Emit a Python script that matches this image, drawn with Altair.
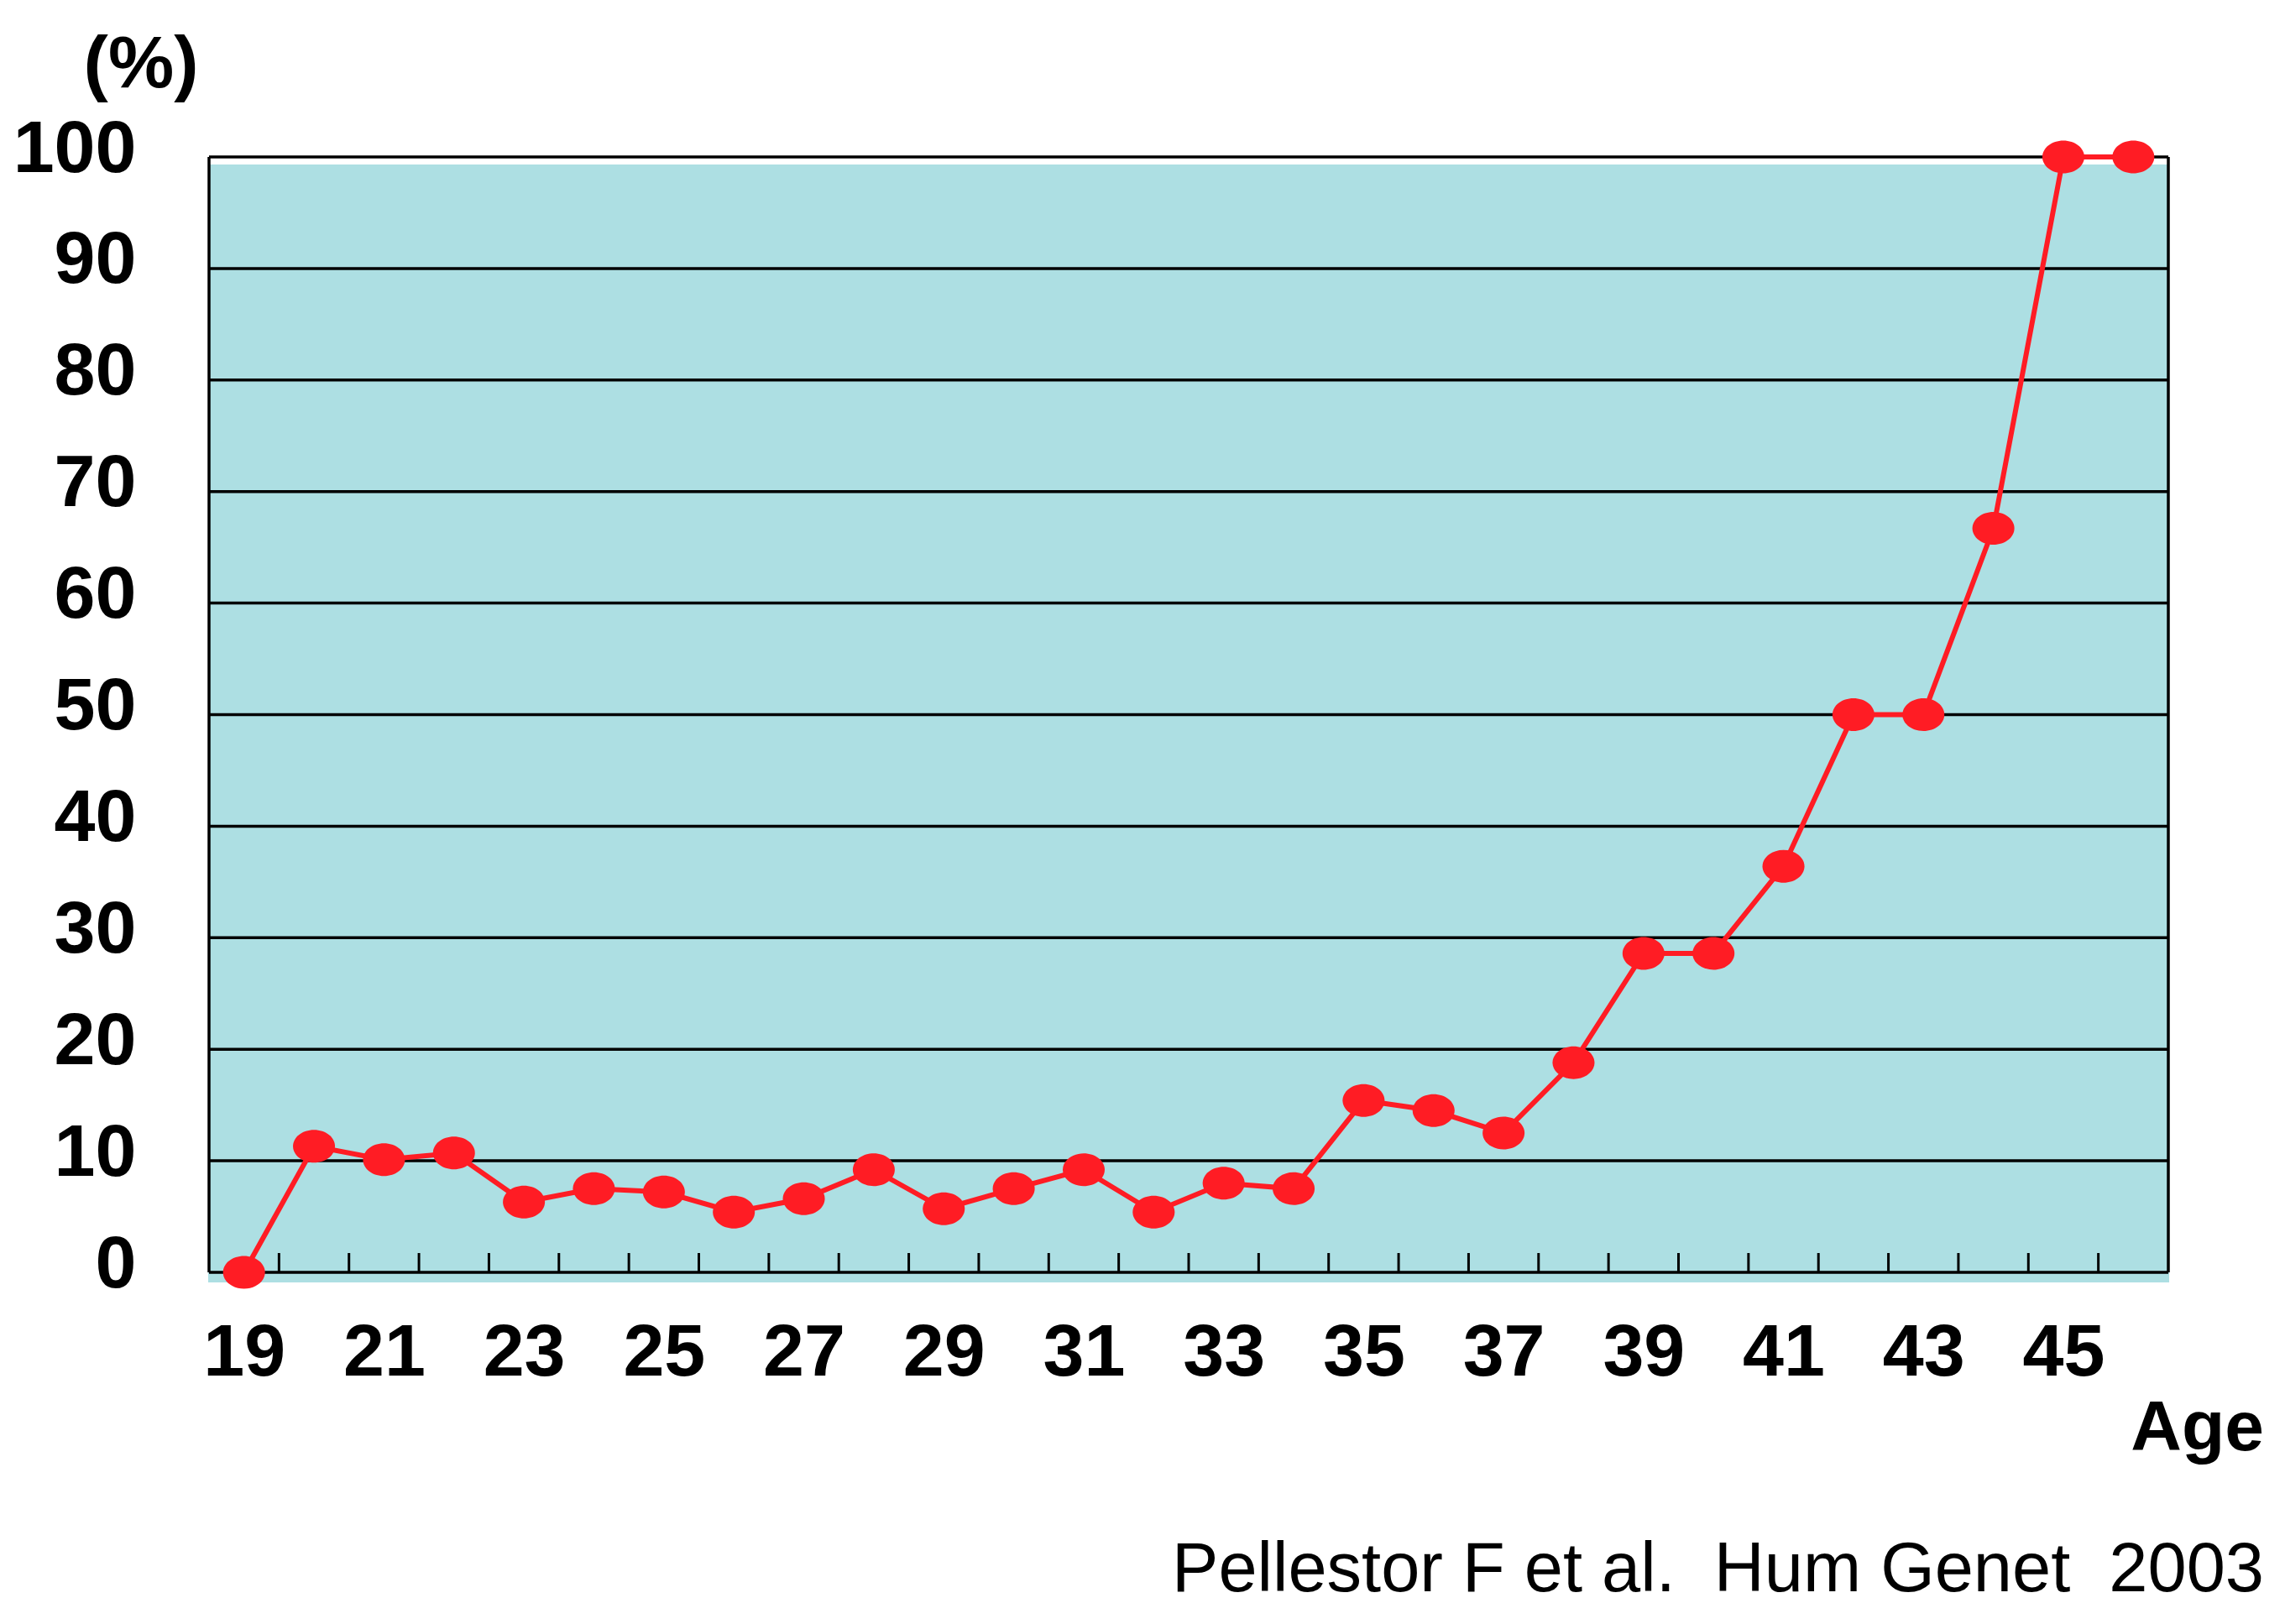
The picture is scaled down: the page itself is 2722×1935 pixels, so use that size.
import altair as alt
import pandas as pd

# ---- data ----
ages = [19, 20, 21, 22, 23, 24, 25, 26, 27, 28, 29, 30, 31, 32,
        33, 34, 35, 36, 37, 38, 39, 40, 41, 42, 43, 44, 45, 46]
rates = [0, 11.3, 10.1, 10.7, 6.3, 7.5, 7.2, 5.4, 6.6, 9.2, 5.7, 7.5, 9.2, 5.4,
         8.0, 7.5, 15.4, 14.5, 12.5, 18.8, 28.6, 28.6, 36.4, 50, 50, 66.7, 100, 100]
x_label_values = [19, 21, 23, 25, 27, 29, 31, 33, 35, 37, 39, 41, 43, 45]
y_label_values = [0, 10, 20, 30, 40, 50, 60, 70, 80, 90, 100]
grid_values = [0, 10, 20, 30, 40, 50, 60, 70, 80, 90, 100]
frame_x = [18.5, 46.5]
tick_positions = [19.5, 20.5, 21.5, 22.5, 23.5, 24.5, 25.5, 26.5, 27.5, 28.5,
                  29.5, 30.5, 31.5, 32.5, 33.5, 34.5, 35.5, 36.5, 37.5, 38.5,
                  39.5, 40.5, 41.5, 42.5, 43.5, 44.5, 45.5]
unit_label = "(%)"
x_title = "Age"
citation = "Pellestor F et al.\u00a0\u00a0Hum Genet\u00a0\u00a02003"

W, H = 2334, 1329
FONT = "Liberation Sans Narrow, Arial Narrow, Liberation Sans, sans-serif"
RED = "#FF1C24"
CYAN = "#ADDFE3"
LABEL_SIZE = 88

df = pd.DataFrame({"age": ages, "rate": rates})
grid_df = pd.DataFrame({"y": grid_values})
frame_df = pd.DataFrame({"x": frame_x})
tick_df = pd.DataFrame({"x": tick_positions})

xscale = alt.Scale(domain=[18.5, 46.5], nice=False, zero=False)
yscale = alt.Scale(domain=[0, 100], nice=False, zero=False)

xaxis = alt.Axis(values=x_label_values, format="d", domain=False, ticks=False, grid=False,
                 tickSize=0, labelPadding=122, labelBaseline="alphabetic",
                 labelFont=FONT, labelFontWeight="bold", labelFontSize=LABEL_SIZE,
                 labelColor="black", title=None, labelFlush=False, labelOverlap=False,
                 labelLimit=1000)
yaxis = alt.Axis(values=y_label_values, format="d", domain=False, ticks=False, grid=False,
                 tickSize=0, labelPadding=87, labelBaseline="alphabetic", labelOffset=17,
                 labelFont=FONT, labelFontWeight="bold", labelFontSize=LABEL_SIZE,
                 labelColor="black", title=None, labelFlush=False, labelOverlap=False,
                 labelAlign="right", labelLimit=1000)

# cyan plot background (slightly offset from the frame, as in the reference)
bg = alt.Chart(pd.DataFrame({"k": [0]})).mark_rect(color=CYAN).encode(
    x=alt.value(-1), x2=alt.value(W + 1), y=alt.value(9), y2=alt.value(H + 12))

grid = alt.Chart(grid_df).mark_rule(color="black", strokeWidth=3.5).encode(
    y=alt.Y("y:Q", scale=yscale, axis=yaxis),
    x=alt.value(0), x2=alt.value(W))

frame = alt.Chart(frame_df).mark_rule(color="black", strokeWidth=3.5).encode(
    x=alt.X("x:Q", scale=xscale, axis=xaxis),
    y=alt.value(0), y2=alt.value(H))

ticks = alt.Chart(tick_df).mark_rule(color="black", strokeWidth=3).encode(
    x=alt.X("x:Q", scale=xscale),
    y=alt.value(H - 23), y2=alt.value(H))

line = alt.Chart(df).mark_line(color=RED, strokeWidth=6).encode(
    x=alt.X("age:Q", scale=xscale),
    y=alt.Y("rate:Q", scale=yscale))

ellipse = ("M-1,0C-1,-0.431,-0.552,-0.78,0,-0.78C0.552,-0.78,1,-0.431,1,0"
           "C1,0.431,0.552,0.78,0,0.78C-0.552,0.78,-1,0.431,-1,0Z")
points = alt.Chart(df).mark_point(shape=ellipse, filled=True, color=RED,
                                  opacity=1, size=50 * 50).encode(
    x=alt.X("age:Q", scale=xscale),
    y=alt.Y("rate:Q", scale=yscale))

unit_txt = alt.Chart(pd.DataFrame({"t": [unit_label]})).mark_text(
    font=FONT, fontWeight="bold", fontSize=88, align="center",
    baseline="alphabetic", color="black").encode(
    text="t:N", x=alt.value(-81), y=alt.value(-83))

age_txt = alt.Chart(pd.DataFrame({"t": [x_title]})).mark_text(
    font=FONT, fontWeight="bold", fontSize=84, align="right",
    baseline="alphabetic", color="black").encode(
    text="t:N", x=alt.value(2448), y=alt.value(1541))

cite_txt = alt.Chart(pd.DataFrame({"t": [citation]})).mark_text(
    font=FONT, fontWeight="normal", fontSize=83, align="right",
    baseline="alphabetic", color="black").encode(
    text="t:N", x=alt.value(2448), y=alt.value(1709))

chart = alt.layer(bg, grid, frame, ticks, line, points, unit_txt, age_txt, cite_txt).properties(
    width=W, height=H,
    autosize=alt.AutoSizeParams(type="none"),
    padding={"left": 241, "top": 179, "right": 125, "bottom": 400},
).configure_view(stroke=None).configure(background="white")

chart.save("out.html", embed_options={"renderer": "svg", "actions": False})
